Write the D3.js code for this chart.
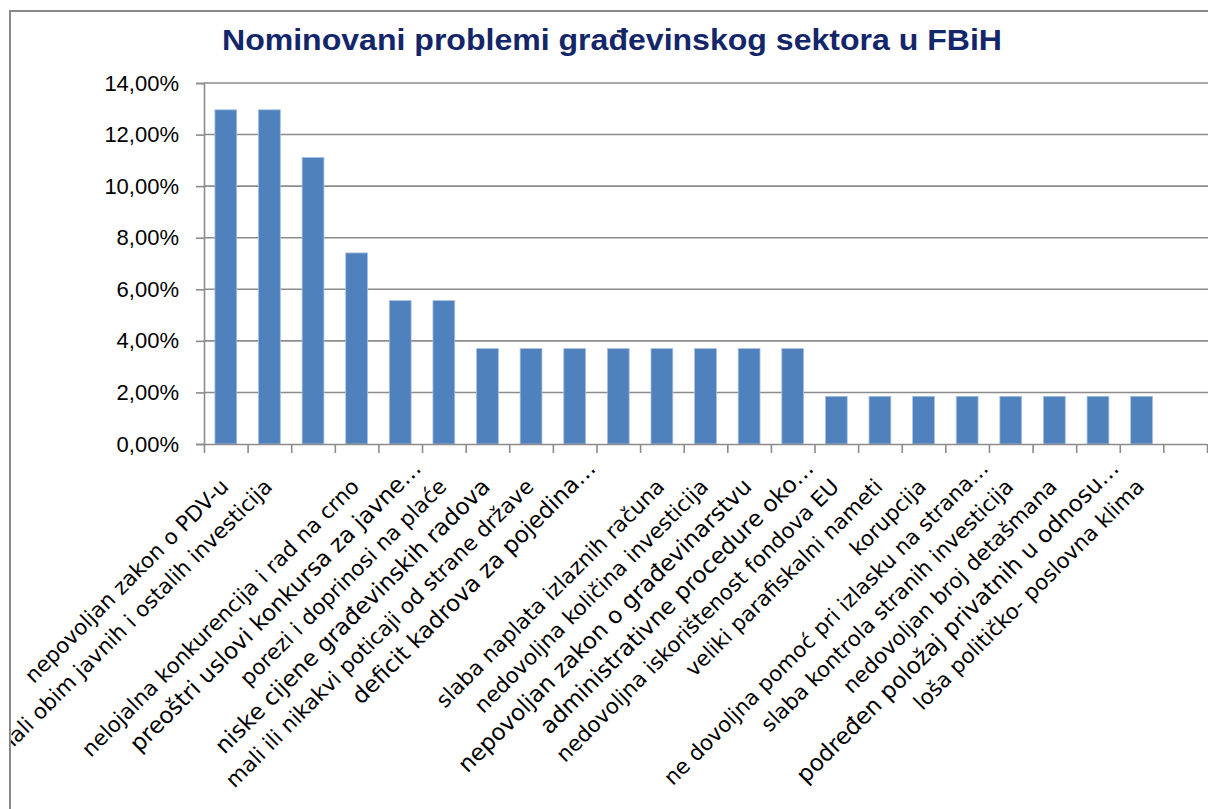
<!DOCTYPE html>
<html>
<head>
<meta charset="utf-8">
<script src="https://cdn.jsdelivr.net/npm/d3@7"></script>
<style>
  body { margin: 0; background: #fff; }
  svg { display: block; }
</style>
</head>
<body>
<svg id="chart"></svg>
<script>
const width = 1208;
const height = 809;

const title = 'Nominovani problemi građevinskog sektora u FBiH';

// one slot per category on the axis; '' where the picture shows no label
const categories = [
  'nepovoljan zakon o PDV-u',
  'mali obim javnih i ostalih investicija',
  '',
  'nelojalna konkurencija i rad na crno',
  'preoštri uslovi konkursa za javne…',
  'porezi i doprinosi na plaće',
  'niske cijene građevinskih radova',
  'mali ili nikakvi poticaji od strane države',
  'deficit kadrova za pojedina…',
  '',
  'slaba naplata izlaznih računa',
  'nedovoljna količina investicija',
  'nepovoljan zakon o građevinarstvu',
  'administrativne procedure oko…',
  'nedovoljna iskorištenost fondova EU',
  'veliki parafiskalni nameti',
  'korupcija',
  'ne dovoljna pomoć pri izlasku na strana…',
  'slaba kontrola stranih investicija',
  'nedovoljan broj detašmana',
  'podređen položaj privatnih u odnosu…',
  'loša političko- poslovna klima',
  ''
];

// share of answers, in percent
const shares = [
  12.96, 12.96, 11.11, 7.41, 5.56, 5.56,
  3.70, 3.70, 3.70, 3.70, 3.70, 3.70, 3.70, 3.70,
  1.85, 1.85, 1.85, 1.85, 1.85, 1.85, 1.85, 1.85,
  null
];

const yTicks = [0, 2, 4, 6, 8, 10, 12, 14];

// labels drawn in the bigger font in the original
const bigLabels = [4, 6, 8, 12, 13, 20];

const plotLeft = 204, plotRight = 1207, plotTop = 83, plotBottom = 444;

const svg = d3.select('#chart')
  .attr('width', width)
  .attr('height', height)
  .style('background', '#fff');

svg.append('defs').append('clipPath').attr('id', 'frame-clip')
  .append('rect').attr('x', 11).attr('y', 12).attr('width', width).attr('height', height);

// outer frame
svg.append('path')
  .attr('d', `M10,${height} V11 H${width}`)
  .attr('fill', 'none')
  .attr('stroke', '#8a8a8a')
  .attr('stroke-width', 2);

const x = d3.scaleBand()
  .domain(d3.range(categories.length))
  .range([plotLeft, plotRight])
  .paddingInner(0.5)
  .paddingOuter(0.25);

const xEdge = d3.scaleLinear().domain([0, categories.length]).range([plotLeft, plotRight]);

const y = d3.scaleLinear().domain([0, 14]).range([plotBottom, plotTop]);

// gridlines
svg.append('g')
  .selectAll('line')
  .data(yTicks.filter(d => d > 0))
  .enter().append('line')
  .attr('x1', plotLeft).attr('x2', width)
  .attr('y1', d => y(d)).attr('y2', d => y(d))
  .attr('stroke', '#8c8c8c')
  .attr('stroke-width', 1.6);

// bars
svg.append('g')
  .selectAll('rect')
  .data(shares.map((v, i) => ({ i, v })).filter(d => d.v != null))
  .enter().append('rect')
  .attr('x', d => x(d.i))
  .attr('y', d => y(d.v))
  .attr('width', x.bandwidth())
  .attr('height', d => y(0) - y(d.v))
  .attr('fill', '#4f81bd')
  .attr('stroke', '#a9c0e0')
  .attr('stroke-width', 0.8);

// y axis
const yAxis = svg.append('g')
  .attr('transform', `translate(${plotLeft},0)`)
  .call(d3.axisLeft(y)
    .tickValues(yTicks)
    .tickSize(8)
    .tickPadding(17)
    .tickFormat(d => d.toFixed(2).replace('.', ',') + '%'));

yAxis.select('.domain').attr('stroke', '#8c8c8c').attr('stroke-width', 1.6);
yAxis.selectAll('.tick line').attr('stroke', '#8c8c8c').attr('stroke-width', 1.6);
yAxis.selectAll('.tick text')
  .attr('fill', '#000')
  .style('font-family', '"Liberation Sans", Arial, sans-serif')
  .style('font-size', '22px');

// x axis: ticks sit between categories
const xAxis = svg.append('g')
  .attr('transform', `translate(0,${plotBottom})`)
  .call(d3.axisBottom(xEdge)
    .tickValues(d3.range(categories.length + 1))
    .tickSize(9)
    .tickSizeOuter(0)
    .tickFormat(''));

xAxis.select('.domain').attr('stroke', '#8c8c8c').attr('stroke-width', 1.6);
xAxis.selectAll('.tick line').attr('stroke', '#8c8c8c').attr('stroke-width', 1.6);

// rotated category labels
svg.append('g')
  .attr('clip-path', 'url(#frame-clip)')
  .selectAll('text')
  .data(categories.map((c, i) => ({ c, i })).filter(d => d.c !== ''))
  .enter().append('text')
  .attr('transform', d => {
    const shift = d.c.endsWith('…') ? 26 : 0;
    const cx = x(d.i) + x.bandwidth() / 2 + 4 + shift * Math.SQRT1_2;
    const cy = plotBottom + 44 - shift * Math.SQRT1_2;
    return `translate(${cx},${cy}) rotate(-45)`;
  })
  .attr('text-anchor', 'end')
  .attr('fill', '#000')
  .style('font-family', '"DejaVu Sans", Verdana, sans-serif')
  .style('font-size', d => bigLabels.includes(d.i) ? '23px' : '21.4px')
  .text(d => d.c);

// title
svg.append('text')
  .attr('x', 612)
  .attr('y', 50)
  .attr('text-anchor', 'middle')
  .attr('fill', '#13266a')
  .attr('textLength', 780)
  .attr('lengthAdjust', 'spacingAndGlyphs')
  .style('font-family', '"Liberation Sans", sans-serif')
  .style('font-weight', 'bold')
  .style('font-size', '30px')
  .text(title);
</script>
</body>
</html>
